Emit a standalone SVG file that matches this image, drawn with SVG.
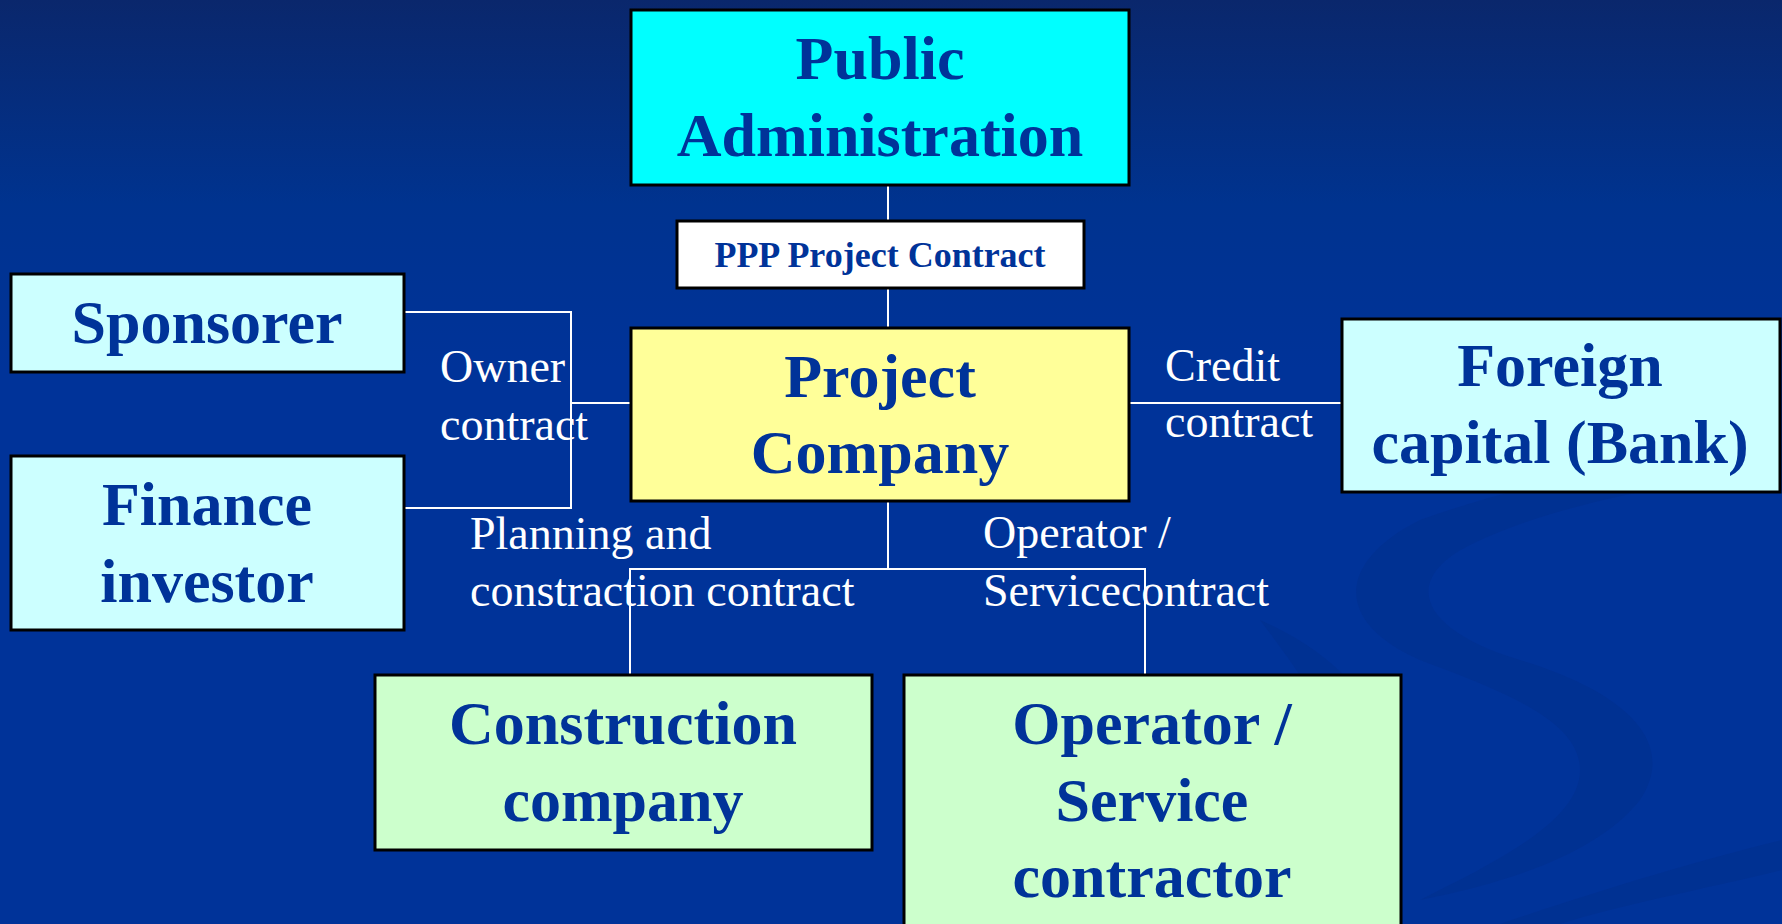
<svg xmlns="http://www.w3.org/2000/svg" width="1782" height="924" viewBox="0 0 1782 924">
<defs>
<linearGradient id="bg" x1="0" y1="0" x2="0" y2="1">
<stop offset="0" stop-color="#0a276c"/>
<stop offset="0.22" stop-color="#00338f"/>
<stop offset="0.4" stop-color="#003399"/>
<stop offset="1" stop-color="#003399"/>
</linearGradient>
<style>
.box{stroke:#000;stroke-width:3}
.nt{font-family:"Liberation Serif","Times New Roman",serif;font-weight:bold;font-size:62px;fill:#003399;text-anchor:middle}
.lb{font-family:"Liberation Serif","Times New Roman",serif;font-size:46px;fill:#fff}
.cn{stroke:#fff;stroke-width:2;fill:none}
.sw{fill:#002f8c;opacity:0.55}
</style>
</defs>
<rect width="1782" height="924" fill="url(#bg)"/>
<g id="swirl">
<path class="sw" d="M1420,520 C1560,470 1720,450 1782,445 L1782,470 C1700,480 1560,500 1470,545 C1400,580 1420,630 1520,660 C1620,690 1680,740 1640,800 C1600,850 1520,880 1420,900 C1500,860 1580,820 1580,770 C1580,720 1500,690 1420,660 C1330,620 1340,560 1420,520 Z"/>
<path class="sw" d="M1260,620 C1330,650 1380,700 1390,760 C1395,820 1360,870 1300,900 C1340,860 1360,800 1340,750 C1320,700 1290,660 1260,620 Z"/>
<path class="sw" d="M1500,924 C1600,890 1700,860 1782,840 L1782,870 C1700,890 1620,905 1560,924 Z"/>
</g>
<g id="connectors">
<line class="cn" x1="888" y1="186" x2="888" y2="221"/>
<line class="cn" x1="888" y1="288" x2="888" y2="328"/>
<polyline class="cn" points="404,312 571,312 571,508 404,508"/>
<line class="cn" x1="571" y1="403" x2="631" y2="403"/>
<line class="cn" x1="1129" y1="403" x2="1342" y2="403"/>
<line class="cn" x1="888" y1="501" x2="888" y2="569"/>
<polyline class="cn" points="630,675 630,569 1145,569 1145,675"/>
</g>
<g id="labels">
<text class="lb" x="440" y="382">Owner</text>
<text class="lb" x="440" y="440">contract</text>
<text class="lb" x="1165" y="381">Credit</text>
<text class="lb" x="1165" y="437">contract</text>
<text class="lb" x="470" y="549">Planning and</text>
<text class="lb" x="470" y="606">constraction contract</text>
<text class="lb" x="983" y="548">Operator /</text>
<text class="lb" x="983" y="606">Servicecontract</text>
</g>
<g id="public-administration">
<rect class="box" x="631" y="10" width="498" height="175" fill="#00ffff"/>
<text class="nt" x="880" y="79">Public</text>
<text class="nt" x="880" y="156">Administration</text>
</g>
<g id="ppp-contract">
<rect class="box" x="677" y="221" width="407" height="67" fill="#ffffff"/>
<text class="nt" x="880" y="267" style="font-size:36px">PPP Project Contract</text>
</g>
<g id="project-company">
<rect class="box" x="631" y="328" width="498" height="173" fill="#ffff99"/>
<text class="nt" x="880" y="397">Project</text>
<text class="nt" x="880" y="473">Company</text>
</g>
<g id="sponsorer">
<rect class="box" x="11" y="274" width="393" height="98" fill="#ccffff"/>
<text class="nt" x="207" y="343">Sponsorer</text>
</g>
<g id="finance-investor">
<rect class="box" x="11" y="456" width="393" height="174" fill="#ccffff"/>
<text class="nt" x="207" y="525">Finance</text>
<text class="nt" x="207" y="602">investor</text>
</g>
<g id="foreign-capital">
<rect class="box" x="1342" y="319" width="438" height="173" fill="#ccffff"/>
<text class="nt" x="1560" y="386">Foreign</text>
<text class="nt" x="1560" y="463">capital (Bank)</text>
</g>
<g id="construction-company">
<rect class="box" x="375" y="675" width="497" height="175" fill="#ccffcc"/>
<text class="nt" x="623" y="744">Construction</text>
<text class="nt" x="623" y="821">company</text>
</g>
<g id="operator-service-contractor">
<rect class="box" x="904" y="675" width="497" height="260" fill="#ccffcc"/>
<text class="nt" x="1152" y="744">Operator /</text>
<text class="nt" x="1152" y="821">Service</text>
<text class="nt" x="1152" y="897">contractor</text>
</g>
</svg>
